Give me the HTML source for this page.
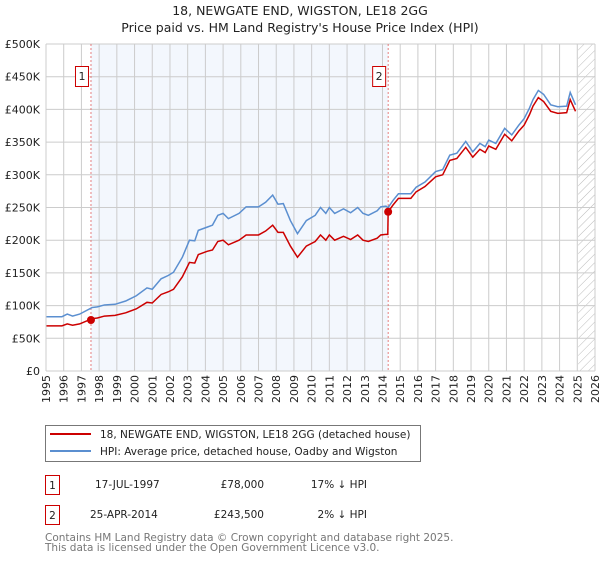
<!DOCTYPE html>
<html><head><meta charset="utf-8"><style>
body{margin:0;background:#fff;font-family:"Liberation Sans","DejaVu Sans",sans-serif;}
svg text{font-family:"DejaVu Sans","Liberation Sans",sans-serif;}
</style></head><body>
<svg id="c" width="600" height="560" viewBox="0 0 600 560" xmlns="http://www.w3.org/2000/svg">
<defs><pattern id="hatch" width="6" height="6" patternUnits="userSpaceOnUse" patternTransform="rotate(45)"><line x1="0" y1="0" x2="0" y2="6" stroke="#bbb" stroke-width="1"/></pattern></defs>
<text x="300" y="15" text-anchor="middle" font-size="12.5" fill="#222">18, NEWGATE END, WIGSTON, LE18 2GG</text>
<text x="300" y="32" text-anchor="middle" font-size="12.5" fill="#222">Price paid vs. HM Land Registry's House Price Index (HPI)</text>
<g id="plot"></g>
<g>
<rect x="45.5" y="425.5" width="375" height="36" fill="#fff" stroke="#777"/>
<line x1="50" y1="434" x2="91" y2="434" stroke="#cc0000" stroke-width="2"/>
<text x="100" y="438" font-size="10.5" fill="#222">18, NEWGATE END, WIGSTON, LE18 2GG (detached house)</text>
<line x1="50" y1="451" x2="91" y2="451" stroke="#5b8fd0" stroke-width="2"/>
<text x="100" y="455" font-size="10.5" fill="#222">HPI: Average price, detached house, Oadby and Wigston</text>
</g>
<g font-size="10.5" fill="#222">
<rect x="45.5" y="475.5" width="14" height="19" fill="#fff" stroke="#cc0000"/>
<text x="52.5" y="489" text-anchor="middle">1</text>
<text x="95" y="488">17-JUL-1997</text>
<text x="264" y="488" text-anchor="end">£78,000</text>
<text x="367" y="488" text-anchor="end">17% ↓ HPI</text>
<rect x="45.5" y="505.5" width="14" height="19" fill="#fff" stroke="#cc0000"/>
<text x="52.5" y="519" text-anchor="middle">2</text>
<text x="90" y="518">25-APR-2014</text>
<text x="264" y="518" text-anchor="end">£243,500</text>
<text x="367" y="518" text-anchor="end">2% ↓ HPI</text>
</g>
<text x="45" y="541" font-size="10.5" fill="#777">Contains HM Land Registry data © Crown copyright and database right 2025.</text>
<text x="45" y="551" font-size="10.5" fill="#777">This data is licensed under the Open Government Licence v3.0.</text>
</svg>
<script>
const dates=[1995.0,1995.9,1996.2,1996.5,1996.9,1997.6,1997.9,1998.3,1998.9,1999.5,2000.1,2000.7,2001.0,2001.5,2001.9,2002.2,2002.7,2003.1,2003.4,2003.6,2004.1,2004.4,2004.7,2005.0,2005.3,2005.9,2006.3,2007.0,2007.4,2007.8,2008.1,2008.4,2008.8,2009.2,2009.7,2010.2,2010.5,2010.8,2011.0,2011.3,2011.8,2012.2,2012.6,2012.9,2013.2,2013.7,2013.9,2014.2,2014.3,2014.32,2014.6,2014.9,2015.6,2015.9,2016.4,2017.0,2017.4,2017.8,2018.2,2018.7,2019.1,2019.5,2019.8,2020.0,2020.4,2020.9,2021.3,2021.7,2022.0,2022.3,2022.5,2022.8,2023.1,2023.5,2023.9,2024.4,2024.6,2024.9];
const hpi=[83,83,87,84,87,97,98,101,102,107,115,127,125,141,146,151,174,200,199,215,220,223,238,241,233,241,251,251,258,269,255,256,230,210,230,238,250,241,250,241,248,242,250,241,238,245,251,252,250,250,261,271,271,281,289,305,308,330,333,351,335,348,343,353,348,371,361,376,386,402,415,429,423,407,404,405,426,407];
const paid=[69,69,72,70,72,80,81,84,85,89,95,105,104,117,121,125,144,166,165,178,183,185,198,200,193,200,208,208,214,223,212,212,191,174,191,198,208,200,208,200,206,201,208,200,198,203,208,209,209,243.5,254,264,264,274,282,297,300,322,325,342,327,339,334,344,339,362,352,367,376,392,405,418,412,397,394,395,415,397];
const yTicks=[0,50,100,150,200,250,300,350,400,450,500];
const yTickLabels=["£0","£50K","£100K","£150K","£200K","£250K","£300K","£350K","£400K","£450K","£500K"];
const xYears=[1995,1996,1997,1998,1999,2000,2001,2002,2003,2004,2005,2006,2007,2008,2009,2010,2011,2012,2013,2014,2015,2016,2017,2018,2019,2020,2021,2022,2023,2024,2025,2026];
const saleDates=[1997.54,2014.32];
const salePrices=[78,243.5];
const saleLabels=["1","2"];

const X=y=>46+(y-1995)*(595-46)/31;
const Y=v=>371-v*(371-44)/500;
const NS="http://www.w3.org/2000/svg";
const g=document.getElementById('plot');
function mk(t,a){const e=document.createElementNS(NS,t);for(const k in a)e.setAttribute(k,a[k]);g.appendChild(e);return e;}
let e=mk('rect',{x:X(saleDates[0]),y:Y(500),width:X(saleDates[1])-X(saleDates[0]),height:Y(0)-Y(500),fill:'#eef3fc',opacity:0.7});


e=mk('rect',{x:X(2025.05),y:Y(500),width:X(2026)-X(2025.05),height:Y(0)-Y(500),fill:'url(#hatch)'});


xYears.forEach(yr=>{
 const l=mk('line',{x1:X(yr),x2:X(yr),y1:Y(500),y2:Y(0),stroke:'#ccc','stroke-width':1});
 
 
 const t=mk('text',{x:0,y:0,'font-size':11,fill:'#222','text-anchor':'end',transform:`translate(${X(yr)+4},375) rotate(-90)`});
 t.textContent=yr;
 
 
});
yTicks.forEach((v,i)=>{
 const l=mk('line',{x1:X(1995),x2:X(2026),y1:Y(v),y2:Y(v),stroke:'#ccc','stroke-width':1});
 
 
 const t=mk('text',{x:40,y:Y(v)+4,'font-size':11,fill:'#222','text-anchor':'end'});
 t.textContent=yTickLabels[i];
 
 
});
saleDates.forEach((d,i)=>{
 const l=mk('line',{x1:X(d),x2:X(d),y1:Y(500),y2:Y(0),stroke:'#e06060','stroke-width':0.8,'stroke-dasharray':'2,2'});
 
 
 const r=mk('rect',{x:X(d)-15.5,y:66.5,width:13,height:20,fill:'#fff',stroke:'#cc0000'});
 
 
 const t=mk('text',{x:X(d)-9,y:80,'font-size':11,fill:'#222','text-anchor':'middle'});
 t.textContent=saleLabels[i];
 
 
});
e=mk('polyline',{points:dates.map((d,i)=>X(d)+','+Y(hpi[i])).join(' '),fill:'none',stroke:'#5b8fd0','stroke-width':1.5});


e=mk('polyline',{points:dates.map((d,i)=>X(d)+','+Y(paid[i])).join(' '),fill:'none',stroke:'#cc0000','stroke-width':1.5});


saleDates.forEach((d,i)=>{
 const c=mk('circle',{cx:X(d),cy:Y(salePrices[i]),r:4,fill:'#cc0000'});
 
 
});
e=mk('line',{x1:X(1995),x2:X(1995),y1:Y(500),y2:Y(0),stroke:'#ccc'});


</script>
</body></html>
